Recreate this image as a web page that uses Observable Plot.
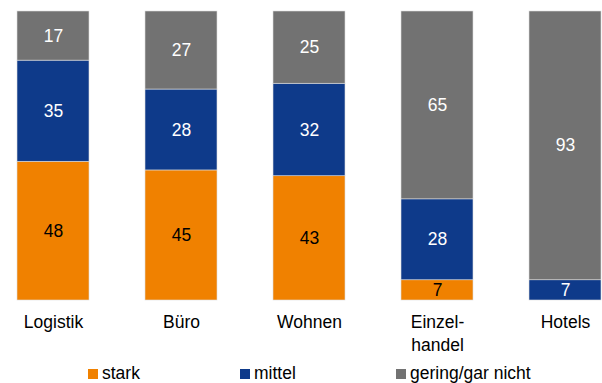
<!DOCTYPE html>
<html>
<head>
<meta charset="utf-8">
<script src="https://cdn.jsdelivr.net/npm/d3@7"></script>
<script src="https://cdn.jsdelivr.net/npm/@observablehq/plot@0.6"></script>
<style>
  html, body { margin: 0; padding: 0; background: #fff; overflow: hidden; }
  body { width: 602px; height: 383px; font-family: "Liberation Sans", Arial, sans-serif; }
  #legend { position: relative; height: 23px; width: 602px; font-size: 17.5px; color: #000; }
  #legend .item { position: absolute; top: 0; height: 23px; display: flex; align-items: center; }
  #legend .sw { width: 10px; height: 10px; margin-right: 4px; }
</style>
</head>
<body>
<div id="chart"></div>
<div id="legend"></div>
<script>
const categories = ["Logistik", "Büro", "Wohnen", "Einzelhandel", "Hotels"];
const tickLabels = ["Logistik", "Büro", "Wohnen", "Einzel-\nhandel", "Hotels"];
const seriesNames = ["stark", "mittel", "gering/gar nicht"];
const stark = [48, 45, 43, 7, 0];
const mittel = [35, 28, 32, 28, 7];
const gering = [17, 27, 25, 65, 93];
const colors = ["#F08100", "#0E3A8A", "#727272"];
const textColors = ["black", "white", "white"];
const legendLeft = [88, 240, 396];

const seriesValues = [stark, mittel, gering];
const data = [];
seriesNames.forEach((s, si) => {
  categories.forEach((c, ci) => {
    const v = seriesValues[si][ci];
    if (v > 0) data.push({category: c, series: s, value: v, si});
  });
});

const chart = Plot.plot({
  width: 602,
  height: 362,
  marginTop: 11,
  marginBottom: 62,
  marginLeft: 16,
  marginRight: 0,
  style: {fontFamily: "'Liberation Sans', Arial, sans-serif", fontSize: "17.5px", color: "#000", background: "#fff"},
  x: {domain: categories, paddingInner: 0.44, paddingOuter: 0, axis: null},
  y: {domain: [0, 100], axis: null},
  color: {domain: seriesNames, range: colors},
  marks: [
    Plot.barY(data, Plot.stackY({x: "category", y: "value", fill: "series", order: seriesNames,
      stroke: "#dcdcdc", strokeWidth: 0.6})),
    Plot.text(data, Plot.stackY({x: "category", y: "value", z: "series", order: seriesNames, text: d => String(d.value),
      fill: d => textColors[d.si], fontSize: 17.5})),
    Plot.axisX({
      domain: categories,
      tickSize: 0,
      tickPadding: 12,
      fontSize: 17.5,
      lineHeight: 1.28,
      tickFormat: (d) => tickLabels[categories.indexOf(d)],
      label: null,
      fill: "#000"
    })
  ]
});
document.getElementById("chart").appendChild(chart);

const legend = document.getElementById("legend");
seriesNames.forEach((s, i) => {
  const item = document.createElement("div");
  item.className = "item";
  item.style.left = legendLeft[i] + "px";
  const sw = document.createElement("span");
  sw.className = "sw";
  sw.style.background = colors[i];
  const t = document.createElement("span");
  t.textContent = s;
  item.appendChild(sw);
  item.appendChild(t);
  legend.appendChild(item);
});
</script>
</body>
</html>
